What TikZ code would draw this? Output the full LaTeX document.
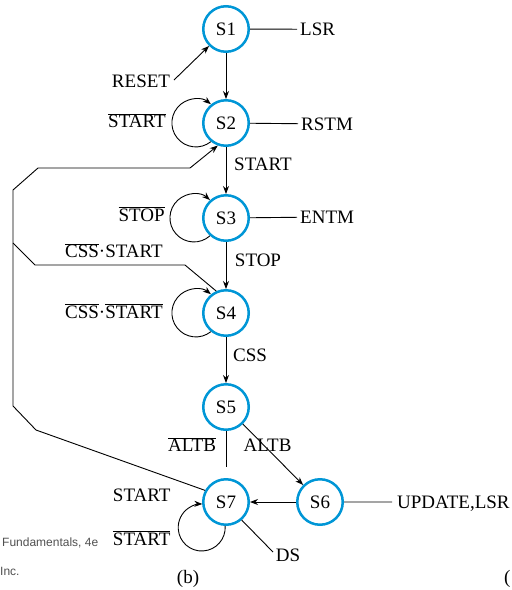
\documentclass[tikz,border=0pt]{standalone}
\usepackage{fontspec}
\setmainfont{Liberation Serif}
\newfontfamily\graysans{Liberation Sans}
\usetikzlibrary{arrows.meta}
\definecolor{stblue}{RGB}{0,150,214}
\definecolor{credgray}{RGB}{80,80,80}
\begin{document}
\begin{tikzpicture}[x=1pt,y=-1pt,
  font=\fontsize{19}{22}\selectfont,
  state/.style={circle,draw=stblue,line width=2.5pt,minimum size=45.5pt,inner sep=0pt},
  lbl/.style={inner sep=0pt,anchor=base},
  lblw/.style={inner sep=0pt,inner xsep=3pt,anchor=base west,text depth=0pt},
  conn/.style={line width=0.9pt},
  arr/.style={conn,-{Stealth[length=8pt,width=6pt]}},
  credit/.style={inner sep=0pt,anchor=base west,text=credgray,font=\graysans\fontsize{12}{14}\selectfont},
]
\useasboundingbox (0,0) rectangle (512,590);

% states
\node[state] (S1) at (226,29) {S1};
\node[state] (S2) at (226,123) {S2};
\node[state] (S3) at (226,218) {S3};
\node[state] (S4) at (226,313) {S4};
\node[state] (S5) at (226,407) {S5};
\node[state] (S7) at (226,502) {S7};
\node[state] (S6) at (320,502) {S6};

% outputs
\node[lblw] (LSR) at (297,35.5) {LSR};
\node[lblw] (RSTM) at (298,130) {RSTM};
\node[lblw] (ENTM) at (297,223.5) {ENTM};
\node[lblw,inner xsep=5pt] (UPD) at (392,508.3) {UPDATE,LSR};
\draw[conn] (S1) -- (LSR.west);
\draw[conn] (S2) -- (RSTM.west);
\draw[conn] (S3) -- (ENTM.west);
\draw[conn] (S6) -- (UPD.west);

% transition labels
\node[lbl] (RESET) at (141,87.3) {RESET};
\node[lbl] (nstart2) at (137,127.7) {$\overline{\mbox{START}}$};
\node[lbl] (start23) at (263,170) {START};
\node[lbl] (nstop3) at (141.7,221) {$\overline{\mbox{STOP}}$};
\node[lbl] (cssstart) at (114,257.7) {$\overline{\mbox{CSS}}\mbox{·START}$};
\node[lbl] (stop34) at (258,266.7) {STOP};
\node[lbl] (ncssstart) at (114,318.3) {$\overline{\mbox{CSS}}\mbox{·}\overline{\mbox{START}}$};
\node[lbl] (css45) at (250,361) {CSS};
\node[lbl] (naltb) at (192,451.7) {$\overline{\mbox{ALTB}}$};
\node[lbl] (altb) at (267.5,451.7) {ALTB};
\node[lbl] (start7) at (141.7,501) {START};
\node[lbl] (nstart7) at (141.7,545) {$\overline{\mbox{START}}$};
\node[lbl] (DS) at (288,561) {DS};
\node[lbl] (capb) at (188,583) {(b)};

% credits
\node[credit] (cr1) at (2,546) {Fundamentals, 4e};
\node[credit] (cr2) at (0,575.7) {Inc.};
\node[inner sep=0pt,anchor=base west] (capc) at (504,583) {(};

% connectors
\coordinate (rs) at (174,80);
\draw[arr] (rs) -- (S1.225);
\draw[arr] (S1) -- (S2);
\draw[arr] (S2.231.3) arc[start angle=-51.3, end angle=-308.7, radius=24pt];
\draw[arr] (S2) -- (S3);
\draw[arr] (S3.228.2) arc[start angle=-48.2, end angle=-311.8, radius=24pt];
\draw[arr] (S3) -- (S4);
\draw[arr] (S4.231.3) arc[start angle=-51.3, end angle=-308.7, radius=24pt];
\draw[arr] (S4) -- (S5);
\draw[arr] (S5) -- (S6);
\draw[arr] (S6) -- (S7);
\draw[arr] (S7.268.5) arc[start angle=3.7, end angle=-271.5, radius=23.5pt];

\coordinate (a1) at (226,467);
\draw[conn] (S5) -- (a1);

\coordinate (d1) at (273,552);
\draw[conn] (S7.-49.6) -- (d1);

\coordinate (p1) at (36,430);
\coordinate (p2) at (13,406);
\coordinate (p3) at (13,190);
\coordinate (p4) at (38,168);
\coordinate (p5) at (190,168);
\draw[arr] (S7.151.4) -- (p1) -- (p2) -- (p3) -- (p4) -- (p5) -- (S2.250.2);

\coordinate (q1) at (185,265);
\coordinate (q2) at (35,265);
\coordinate (q3) at (13,243);
\draw[conn] (S4.114) -- (q1) -- (q2) -- (q3);
\end{tikzpicture}
\end{document}
